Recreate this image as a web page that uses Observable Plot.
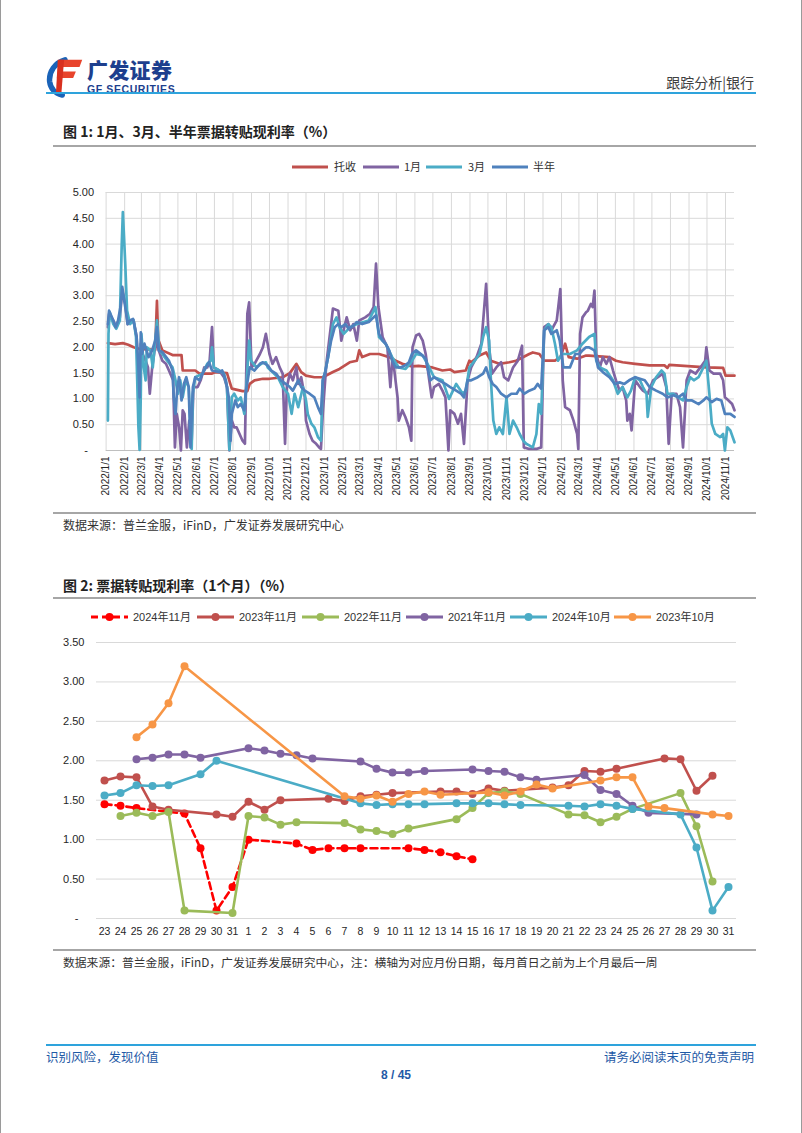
<!DOCTYPE html>
<html><head><meta charset="utf-8">
<script src="https://cdn.jsdelivr.net/npm/d3@7"></script>
<script src="https://cdn.jsdelivr.net/npm/@observablehq/plot@0.6"></script>
<style>
html,body{margin:0;padding:0;background:#fff;}
#page{position:relative;width:802px;height:1133px;box-sizing:border-box;border-left:1px solid #9a9a9a;border-right:1px solid #9a9a9a;overflow:hidden;font-family:"Noto Sans CJK SC","Noto Sans",sans-serif;color:#222;background:#fff;}
.t{position:absolute;white-space:nowrap;line-height:1;}
.rule{position:absolute;}
#chart1{position:absolute;left:50px;top:175px;}
#chart2{position:absolute;left:55px;top:630px;}
</style></head>
<body><div id="page">
<svg style="position:absolute;left:45px;top:56px" width="38" height="42" viewBox="0 0 42 44">
  <path d="M21 3 C 10 6, 3 16, 4 27 C 5 35, 10 40, 18 42" stroke="#1a63b8" stroke-width="6" fill="none" stroke-linecap="round"/>
  <polygon points="15,3 40,3 37,11 13,11" fill="#e8442c"/>
  <polygon points="13,16 33,16 30,23 12,23" fill="#e8442c"/>
  <polygon points="13,3 20,3 17,40 11,40" fill="#d8301f"/>
</svg>
<div class="t" style="left:86px;top:59px;font-size:21px;font-weight:900;color:#1d3f8e;letter-spacing:0.3px">广发证券</div>
<div class="t" style="left:86px;top:84px;font-family:'Liberation Sans',Arial,sans-serif;font-weight:bold;font-size:10.5px;color:#1d3f8e;letter-spacing:0.6px">GF SECURITIES</div>
<div class="t" style="right:47px;top:75px;font-size:14px;color:#404040">跟踪分析|银行</div>
<div class="rule" style="left:45px;top:92px;width:710px;height:2px;background:#2ea3dc"></div>

<div class="t" style="left:62px;top:124px;font-size:14px;font-weight:bold;color:#222">图 1: 1月、3月、半年票据转贴现利率（%）</div>
<div class="rule" style="left:52px;top:145px;width:703px;height:2px;background:#a6a6a6"></div>

<svg style="position:absolute;left:0;top:157px" width="802" height="20" font-family="Noto Sans CJK SC, sans-serif" font-size="11" fill="#333">
  <line x1="291" x2="327" y1="10" y2="10" stroke="#c0504d" stroke-width="3"/><text x="333" y="10" dy="0.36em">托收</text>
  <line x1="362" x2="398" y1="10" y2="10" stroke="#8064a2" stroke-width="3"/><text x="403" y="10" dy="0.36em">1月</text>
  <line x1="425" x2="461" y1="10" y2="10" stroke="#4bacc6" stroke-width="3"/><text x="467" y="10" dy="0.36em">3月</text>
  <line x1="491" x2="527" y1="10" y2="10" stroke="#4f81bd" stroke-width="3"/><text x="532" y="10" dy="0.36em">半年</text>
</svg>
<div id="chart1"></div>
<div class="rule" style="left:52px;top:512px;width:703px;height:2px;background:#a6a6a6"></div>
<div class="t" style="left:62px;top:519px;font-size:12px;color:#333">数据来源：普兰金服，iFinD，广发证券发展研究中心</div>

<div class="t" style="left:62px;top:578px;font-size:14px;font-weight:bold;color:#222">图 2: 票据转贴现利率（1个月）（%）</div>
<div class="rule" style="left:52px;top:597px;width:703px;height:2px;background:#a6a6a6"></div>
<svg id="legend2" style="position:absolute;left:0;top:607px" width="802" height="20" font-family="Liberation Sans, Noto Sans CJK SC, sans-serif" font-size="11" fill="#333"></svg>
<div id="chart2"></div>
<div class="rule" style="left:52px;top:949px;width:703px;height:2px;background:#a6a6a6"></div>
<div class="t" style="left:62px;top:956px;font-size:11.8px;color:#333">数据来源：普兰金服，iFinD，广发证券发展研究中心，注：横轴为对应月份日期，每月首日之前为上个月最后一周</div>

<div class="rule" style="left:45px;top:1044px;width:710px;height:2px;background:#2ea3dc"></div>
<div class="t" style="left:45px;top:1051px;font-size:12.5px;color:#1f5aa6">识别风险，发现价值</div>
<div class="t" style="right:47px;top:1051px;font-size:12.5px;color:#1f5aa6">请务必阅读末页的免责声明</div>
<div class="t" style="left:380px;top:1069px;font-family:'Liberation Sans',Arial,sans-serif;font-weight:bold;font-size:12px;color:#1f5aa6">8 / 45</div>
</div>
<script>
// ---------- Chart 1 data (date, %) ----------
const tuoshou = [["2022-01-04",2.08],["2022-01-16",2.06],["2022-01-29",2.08],["2022-02-07",2.05],["2022-02-16",2.0],["2022-02-25",1.97],["2022-03-13",1.96],["2022-03-24",1.95],["2022-03-27",2.9],["2022-03-29",2.15],["2022-04-05",1.94],["2022-04-22",1.85],["2022-05-07",1.85],["2022-05-09",1.55],["2022-05-30",1.55],["2022-06-06",1.49],["2022-06-27",1.49],["2022-07-03",1.52],["2022-07-22",1.5],["2022-07-30",1.2],["2022-08-17",1.15],["2022-08-25",1.15],["2022-08-29",1.29],["2022-09-06",1.36],["2022-09-20",1.39],["2022-10-01",1.39],["2022-10-23",1.42],["2022-11-04",1.5],["2022-11-15",1.68],["2022-11-23",1.52],["2022-12-01",1.45],["2022-12-15",1.42],["2022-12-29",1.42],["2023-01-15",1.52],["2023-01-26",1.58],["2023-02-12",1.71],["2023-02-24",1.74],["2023-02-28",1.94],["2023-03-05",1.81],["2023-03-18",1.87],["2023-04-02",1.87],["2023-04-19",1.81],["2023-04-30",1.74],["2023-05-11",1.68],["2023-05-27",1.63],["2023-06-07",1.64],["2023-06-30",1.61],["2023-07-17",1.55],["2023-07-30",1.57],["2023-08-06",1.52],["2023-08-25",1.55],["2023-08-31",1.74],["2023-09-03",1.71],["2023-09-17",1.84],["2023-09-28",1.9],["2023-10-06",1.74],["2023-10-20",1.68],["2023-11-06",1.71],["2023-11-17",1.74],["2023-12-09",1.87],["2023-12-15",1.9],["2023-12-26",1.87],["2024-01-03",1.74],["2024-01-21",1.74],["2024-01-30",1.81],["2024-02-07",2.07],["2024-02-13",1.81],["2024-02-27",1.78],["2024-03-13",1.84],["2024-03-18",1.84],["2024-04-21",1.81],["2024-05-02",1.74],["2024-05-13",1.71],["2024-06-03",1.68],["2024-06-27",1.65],["2024-07-22",1.65],["2024-07-27",1.6],["2024-07-30",1.66],["2024-09-30",1.61],["2024-10-28",1.6],["2024-11-01",1.45],["2024-11-16",1.45]];

const yue1 = [["2022-01-04",2.39],["2022-01-06",2.65],["2022-01-13",2.52],["2022-01-18",2.39],["2022-01-24",2.58],["2022-01-28",3.1],["2022-02-02",2.84],["2022-02-06",2.45],["2022-02-10",2.52],["2022-02-16",2.52],["2022-02-21",2.2],["2022-02-24",1.36],["2022-02-26",0.71],["2022-02-28",2.07],["2022-03-03",1.87],["2022-03-08",1.74],["2022-03-12",1.61],["2022-03-15",1.1],["2022-03-19",1.61],["2022-03-23",1.94],["2022-03-27",2.13],["2022-03-30",1.94],["2022-04-05",1.74],["2022-04-11",1.68],["2022-04-16",1.55],["2022-04-23",1.36],["2022-04-26",0.06],["2022-04-29",0.71],["2022-05-03",0.45],["2022-05-06",0.0],["2022-05-09",0.78],["2022-05-12",0.71],["2022-05-16",0.06],["2022-05-20",0.58],["2022-05-24",0.19],["2022-05-27",1.23],["2022-06-03",1.23],["2022-06-08",1.36],["2022-06-14",1.61],["2022-06-19",1.61],["2022-06-23",1.74],["2022-06-27",2.39],["2022-06-30",1.61],["2022-07-09",1.55],["2022-07-17",1.42],["2022-07-22",1.23],["2022-07-26",0.0],["2022-07-30",0.58],["2022-08-03",0.45],["2022-08-07",0.45],["2022-08-12",0.32],["2022-08-17",0.19],["2022-08-21",0.13],["2022-08-25",2.65],["2022-08-28",2.87],["2022-09-01",1.61],["2022-09-06",1.68],["2022-09-15",1.87],["2022-09-20",2.0],["2022-09-25",2.26],["2022-10-01",1.87],["2022-10-06",1.68],["2022-10-12",1.81],["2022-10-18",1.61],["2022-10-23",1.49],["2022-10-27",0.13],["2022-10-30",1.23],["2022-11-04",1.49],["2022-11-09",1.36],["2022-11-15",1.61],["2022-11-18",1.29],["2022-11-23",1.42],["2022-11-29",1.03],["2022-12-01",0.58],["2022-12-07",0.32],["2022-12-12",0.19],["2022-12-18",0.13],["2022-12-23",0.06],["2022-12-26",0.03],["2022-12-29",0.71],["2023-01-04",1.68],["2023-01-12",2.45],["2023-01-15",2.75],["2023-01-24",2.71],["2023-01-29",2.13],["2023-02-03",2.39],["2023-02-07",2.58],["2023-02-13",2.33],["2023-02-18",2.45],["2023-02-24",2.13],["2023-02-28",2.52],["2023-03-10",2.58],["2023-03-18",2.65],["2023-03-24",2.78],["2023-03-28",3.62],["2023-04-01",2.78],["2023-04-08",2.2],["2023-04-16",2.0],["2023-04-21",1.23],["2023-04-24",1.74],["2023-04-27",1.61],["2023-05-03",1.03],["2023-05-05",0.58],["2023-05-11",0.78],["2023-05-16",0.65],["2023-05-22",0.45],["2023-05-26",0.19],["2023-05-28",2.0],["2023-06-03",2.23],["2023-06-08",2.26],["2023-06-14",2.13],["2023-06-19",1.87],["2023-06-25",1.36],["2023-06-29",1.03],["2023-07-03",1.23],["2023-07-11",1.29],["2023-07-17",1.16],["2023-07-22",1.03],["2023-07-27",0.0],["2023-07-30",0.78],["2023-08-06",0.71],["2023-08-12",0.52],["2023-08-17",0.71],["2023-08-22",0.13],["2023-08-28",1.36],["2023-09-03",1.61],["2023-09-12",1.81],["2023-09-20",2.07],["2023-09-28",3.23],["2023-10-03",2.0],["2023-10-08",1.49],["2023-10-15",1.61],["2023-10-23",1.71],["2023-10-28",1.42],["2023-11-04",1.36],["2023-11-12",1.61],["2023-11-20",1.74],["2023-11-27",2.03],["2023-11-30",0.06],["2023-12-09",0.03],["2023-12-21",0.03],["2023-12-29",0.06],["2024-01-03",2.39],["2024-01-10",2.45],["2024-01-15",2.33],["2024-01-24",2.52],["2024-01-30",3.13],["2024-02-03",1.36],["2024-02-07",0.84],["2024-02-15",0.78],["2024-02-21",0.58],["2024-02-27",0.32],["2024-02-29",0.03],["2024-03-03",2.26],["2024-03-07",2.58],["2024-03-13",2.68],["2024-03-16",2.71],["2024-03-21",2.84],["2024-03-24",2.78],["2024-03-27",3.1],["2024-03-30",1.87],["2024-04-05",1.61],["2024-04-10",1.81],["2024-04-16",1.68],["2024-04-21",1.81],["2024-04-27",1.55],["2024-05-02",1.36],["2024-05-08",1.16],["2024-05-13",1.23],["2024-05-19",0.97],["2024-05-21",0.58],["2024-05-25",0.71],["2024-05-28",0.39],["2024-06-03",1.36],["2024-06-11",1.23],["2024-06-16",1.16],["2024-06-24",1.1],["2024-07-03",1.36],["2024-07-11",1.42],["2024-07-19",1.49],["2024-07-25",1.23],["2024-07-29",0.13],["2024-08-03",1.1],["2024-08-11",1.1],["2024-08-17",0.84],["2024-08-22",0.06],["2024-08-28",1.36],["2024-09-03",1.55],["2024-09-12",1.49],["2024-09-20",1.61],["2024-09-28",1.74],["2024-09-30",2.0],["2024-10-05",1.55],["2024-10-12",1.49],["2024-10-23",1.49],["2024-10-28",1.36],["2024-10-31",1.03],["2024-11-06",0.97],["2024-11-12",0.9],["2024-11-16",0.78]];

const yue3 = [["2022-01-04",0.58],["2022-01-05",2.26],["2022-01-07",2.68],["2022-01-13",2.45],["2022-01-18",2.36],["2022-01-24",2.52],["2022-01-27",3.94],["2022-01-29",4.62],["2022-02-02",3.62],["2022-02-05",2.71],["2022-02-10",2.45],["2022-02-16",2.52],["2022-02-20",2.2],["2022-02-22",1.36],["2022-02-24",0.45],["2022-02-26",0.01],["2022-02-28",1.1],["2022-03-01",2.26],["2022-03-05",1.61],["2022-03-08",1.36],["2022-03-10",2.0],["2022-03-16",1.94],["2022-03-20",1.61],["2022-03-24",2.13],["2022-03-27",2.52],["2022-03-31",1.94],["2022-04-05",1.87],["2022-04-13",1.74],["2022-04-22",1.61],["2022-04-27",1.36],["2022-05-01",1.1],["2022-05-05",1.36],["2022-05-09",1.03],["2022-05-14",1.36],["2022-05-19",1.23],["2022-05-24",0.03],["2022-05-26",1.1],["2022-05-30",1.42],["2022-06-11",1.49],["2022-06-19",1.68],["2022-06-25",1.74],["2022-06-27",2.0],["2022-06-30",1.61],["2022-07-09",1.55],["2022-07-17",1.49],["2022-07-22",1.23],["2022-07-26",0.01],["2022-07-30",1.03],["2022-08-03",1.1],["2022-08-09",0.97],["2022-08-14",1.03],["2022-08-20",0.71],["2022-08-24",1.36],["2022-08-28",2.13],["2022-08-31",1.74],["2022-09-09",1.61],["2022-09-17",1.68],["2022-09-25",1.71],["2022-09-28",1.61],["2022-10-06",1.52],["2022-10-15",1.42],["2022-10-23",1.23],["2022-11-01",1.1],["2022-11-07",0.71],["2022-11-12",1.1],["2022-11-18",0.84],["2022-11-26",1.23],["2022-12-01",0.97],["2022-12-04",0.71],["2022-12-10",0.52],["2022-12-15",0.45],["2022-12-21",0.26],["2022-12-26",0.19],["2022-12-29",1.36],["2023-01-02",1.52],["2023-01-07",1.81],["2023-01-15",2.45],["2023-01-21",2.58],["2023-01-26",2.39],["2023-02-02",2.26],["2023-02-13",2.39],["2023-02-24",2.45],["2023-03-16",2.52],["2023-03-27",2.78],["2023-04-02",2.2],["2023-04-13",2.07],["2023-04-24",1.81],["2023-05-05",1.61],["2023-05-16",1.58],["2023-05-24",1.68],["2023-06-03",1.87],["2023-06-14",1.84],["2023-06-22",1.68],["2023-07-03",1.42],["2023-07-17",1.36],["2023-07-28",1.0],["2023-08-09",1.29],["2023-08-20",1.1],["2023-08-25",1.16],["2023-08-31",1.61],["2023-09-09",1.74],["2023-09-17",1.87],["2023-09-23",2.2],["2023-09-28",2.39],["2023-10-03",2.13],["2023-10-06",1.36],["2023-10-10",0.58],["2023-10-15",0.32],["2023-10-20",0.45],["2023-10-26",0.32],["2023-11-01",1.03],["2023-11-06",0.32],["2023-11-12",0.58],["2023-11-18",0.45],["2023-11-23",0.32],["2023-11-29",0.19],["2023-12-04",0.13],["2023-12-09",0.1],["2023-12-15",0.06],["2023-12-21",0.32],["2023-12-25",0.9],["2023-12-29",0.71],["2024-01-03",2.33],["2024-01-10",2.45],["2024-01-15",2.39],["2024-01-21",2.07],["2024-01-26",1.74],["2024-02-02",1.87],["2024-02-15",1.87],["2024-02-27",1.94],["2024-03-07",2.07],["2024-03-18",2.2],["2024-03-27",2.26],["2024-03-30",1.74],["2024-04-05",1.61],["2024-04-16",1.55],["2024-04-27",1.36],["2024-05-05",1.1],["2024-05-13",1.23],["2024-05-21",1.03],["2024-05-27",1.16],["2024-06-03",1.42],["2024-06-11",1.36],["2024-06-16",1.23],["2024-06-22",1.1],["2024-06-24",0.65],["2024-06-30",1.23],["2024-07-08",1.42],["2024-07-17",1.55],["2024-07-22",1.49],["2024-07-27",1.1],["2024-08-06",1.1],["2024-08-14",1.03],["2024-08-22",0.97],["2024-08-28",1.23],["2024-09-03",1.42],["2024-09-09",1.36],["2024-09-17",1.42],["2024-09-25",1.61],["2024-09-30",1.74],["2024-10-05",1.1],["2024-10-09",0.52],["2024-10-15",0.32],["2024-10-23",0.26],["2024-10-28",0.32],["2024-10-31",0.0],["2024-11-04",0.45],["2024-11-09",0.39],["2024-11-16",0.16]];

const bannian = [["2022-01-04",2.45],["2022-01-06",2.71],["2022-01-13",2.52],["2022-01-17",2.39],["2022-01-21",2.52],["2022-01-25",2.78],["2022-01-28",3.17],["2022-02-02",2.78],["2022-02-06",2.45],["2022-02-10",2.52],["2022-02-15",2.55],["2022-02-18",2.39],["2022-02-21",2.2],["2022-02-24",1.61],["2022-02-26",1.03],["2022-02-28",2.29],["2022-03-02",1.87],["2022-03-06",2.07],["2022-03-13",1.81],["2022-03-19",1.94],["2022-03-24",2.13],["2022-03-27",2.39],["2022-03-30",1.94],["2022-04-05",1.91],["2022-04-16",1.74],["2022-04-22",1.55],["2022-04-24",1.03],["2022-04-27",0.71],["2022-04-30",1.23],["2022-05-03",1.42],["2022-05-07",0.97],["2022-05-11",1.29],["2022-05-15",1.42],["2022-05-19",1.23],["2022-05-22",0.06],["2022-05-26",1.23],["2022-05-30",1.42],["2022-06-06",1.36],["2022-06-11",1.49],["2022-06-17",1.61],["2022-06-22",1.71],["2022-06-27",1.55],["2022-07-09",1.52],["2022-07-14",1.55],["2022-07-20",1.36],["2022-07-25",1.03],["2022-07-28",0.19],["2022-07-30",0.71],["2022-08-05",0.97],["2022-08-09",0.84],["2022-08-14",0.9],["2022-08-20",0.78],["2022-08-22",1.1],["2022-08-29",1.61],["2022-09-06",1.55],["2022-09-15",1.68],["2022-09-20",1.71],["2022-09-28",1.65],["2022-10-04",1.55],["2022-10-12",1.49],["2022-10-20",1.36],["2022-10-28",1.29],["2022-11-04",1.23],["2022-11-09",1.16],["2022-11-18",1.36],["2022-11-23",1.23],["2022-11-29",1.16],["2022-12-07",1.1],["2022-12-15",1.03],["2022-12-21",0.84],["2022-12-26",0.71],["2022-12-29",1.36],["2023-01-02",1.52],["2023-01-07",1.81],["2023-01-12",2.13],["2023-01-18",2.39],["2023-01-24",2.45],["2023-01-29",2.39],["2023-02-05",2.45],["2023-02-10",2.36],["2023-02-18",2.42],["2023-02-24",2.49],["2023-03-05",2.45],["2023-03-16",2.49],["2023-03-24",2.58],["2023-03-28",2.62],["2023-04-02",2.26],["2023-04-08",2.13],["2023-04-13",2.07],["2023-04-19",1.94],["2023-04-24",1.74],["2023-04-30",1.61],["2023-05-08",1.61],["2023-05-16",1.65],["2023-05-22",1.71],["2023-05-27",1.87],["2023-06-03",1.94],["2023-06-11",1.87],["2023-06-19",1.78],["2023-06-22",1.61],["2023-06-27",1.36],["2023-07-03",1.42],["2023-07-11",1.36],["2023-07-22",1.29],["2023-07-30",1.23],["2023-08-09",1.16],["2023-08-17",1.1],["2023-08-22",1.03],["2023-08-28",1.36],["2023-09-03",1.36],["2023-09-14",1.42],["2023-09-23",1.49],["2023-09-28",1.61],["2023-10-03",1.42],["2023-10-09",1.29],["2023-10-15",1.23],["2023-10-23",1.1],["2023-11-01",1.03],["2023-11-09",1.1],["2023-11-18",1.1],["2023-11-23",1.2],["2023-12-01",1.1],["2023-12-09",1.16],["2023-12-18",1.2],["2023-12-23",1.29],["2023-12-29",1.2],["2024-01-03",2.33],["2024-01-10",2.39],["2024-01-15",2.26],["2024-01-24",2.33],["2024-01-29",2.13],["2024-02-04",1.61],["2024-02-15",1.61],["2024-02-24",1.87],["2024-03-02",1.87],["2024-03-07",1.94],["2024-03-13",2.0],["2024-03-18",2.0],["2024-03-27",1.94],["2024-04-02",1.61],["2024-04-10",1.52],["2024-04-21",1.42],["2024-04-30",1.29],["2024-05-08",1.32],["2024-05-16",1.29],["2024-05-24",1.36],["2024-06-03",1.42],["2024-06-11",1.39],["2024-06-19",1.36],["2024-06-27",1.23],["2024-07-08",1.16],["2024-07-19",1.1],["2024-07-27",1.03],["2024-08-06",1.07],["2024-08-14",1.03],["2024-08-22",1.1],["2024-08-28",0.97],["2024-09-06",0.97],["2024-09-17",0.9],["2024-09-25",0.97],["2024-09-30",1.03],["2024-10-09",0.94],["2024-10-17",1.0],["2024-10-25",0.97],["2024-10-31",0.71],["2024-11-09",0.71],["2024-11-16",0.65]];

const yTicks1 = [0, 0.5, 1, 1.5, 2, 2.5, 3, 3.5, 4, 4.5, 5];

// ---------- Chart 2 data ----------
const dayLabels = ["23","24","25","26","27","28","29","30","31",
  "1","2","3","4","5","6","7","8","9","10","11","12","13","14","15","16","17","18","19","20",
  "21","22","23","24","25","26","27","28","29","30","31"];
const nov2024 = [1.45,1.43,1.40,null,null,1.33,0.89,0.10,0.40,
  1.00,null,null,0.95,0.87,0.89,0.89,0.89,null,null,
  0.89,0.87,0.84,0.79,0.75,null,null,null,null,null,
  null,null,null,null,null,null,null,null,null,null,null];
const nov2023 = [1.75,1.80,1.79,1.42,1.38,null,null,1.32,1.29,
  1.48,1.38,1.50,null,null,1.52,1.49,1.55,1.57,1.59,
  null,null,1.61,1.61,1.58,1.65,1.62,null,null,1.66,
  1.69,1.87,1.86,1.90,null,null,2.03,2.02,1.62,1.81,null];
const nov2022 = [null,1.30,1.34,1.30,1.35,0.10,null,null,0.07,
  1.30,1.28,1.19,1.22,null,null,1.21,1.13,1.11,1.07,
  1.14,null,null,1.26,1.40,1.59,1.61,1.58,null,null,
  1.32,1.31,1.22,1.29,1.39,null,null,1.59,1.17,0.47,null];
const nov2021 = [null,null,2.02,2.04,2.08,2.08,2.04,null,null,
  2.16,2.13,2.09,2.07,2.03,null,null,1.99,1.90,1.85,
  1.85,1.87,null,null,1.89,1.87,1.86,1.79,1.76,null,
  null,1.82,1.63,1.58,1.43,1.34,null,null,1.32,null,null];
const oct2024 = [1.56,1.59,1.69,1.68,1.69,null,1.83,2.00,null,
  null,null,null,null,null,null,null,1.46,1.44,1.45,
  1.45,1.45,null,1.46,1.46,1.46,1.45,1.44,null,null,
  1.43,1.42,1.45,1.43,1.39,null,null,1.32,0.90,0.10,0.40];
const oct2023 = [null,null,2.30,2.46,2.73,3.20,null,null,null,
  null,null,null,null,null,null,1.55,1.52,1.56,1.48,
  1.58,1.61,1.57,null,null,1.60,1.56,1.61,1.70,1.65,
  null,null,1.75,1.79,1.79,1.42,1.40,null,null,1.32,1.30];
const yTicks2 = [0, 0.5, 1, 1.5, 2, 2.5, 3, 3.5];

// ---------- build ----------
const parse = d3.utcParse("%Y-%m-%d");
const fmtY = d => d === 0 ? "-\u00a0\u00a0" : d.toFixed(2);
const series1 = [
  {name: "托收", color: "#c0504d", data: tuoshou},
  {name: "1月", color: "#8064a2", data: yue1},
  {name: "3月", color: "#4bacc6", data: yue3},
  {name: "半年", color: "#4f81bd", data: bannian}
];
const monthTicks = d3.utcMonth.range(parse("2022-01-01"), parse("2024-11-02"));
const fontStack = '"Liberation Sans", Arial, sans-serif';

const c1 = Plot.plot({
  width: 710, height: 337,
  marginLeft: 54.6, marginRight: 27, marginTop: 17, marginBottom: 62,
  style: {fontFamily: fontStack, fontSize: "10px", color: "#262626", background: "none", overflow: "visible"},
  x: {type: "utc", domain: [parse("2022-01-01"), parse("2024-11-16")], label: null},
  y: {domain: [0, 5], label: null},
  marks: [
    Plot.ruleY(yTicks1.filter(d => d > 0), {stroke: "#d9d9d9", strokeWidth: 1}),
    Plot.ruleX(monthTicks, {stroke: "#d9d9d9", strokeWidth: 1}),
    Plot.ruleY([0], {stroke: "#bfbfbf", strokeWidth: 1}),
    Plot.axisY(yTicks1, {label: null, tickSize: 0, tickPadding: 12, tickFormat: fmtY, fontSize: 11}),
    Plot.axisX(monthTicks, {label: null, tickSize: 0, tickPadding: 6, tickRotate: -90, tickFormat: d3.utcFormat("%Y/%-m/%-d"), fontSize: 10}),
    ...series1.map(s => Plot.line(s.data.map(([d, v]) => ({date: parse(d), value: v})),
      {x: "date", y: "value", stroke: s.color, strokeWidth: 2.7}))
  ]
});
document.getElementById("chart1").append(c1);

const series2 = [
  {name: "2024年11月", color: "#ff0000", dash: "7,4", values: nov2024},
  {name: "2023年11月", color: "#c0504d", dash: null, values: nov2023},
  {name: "2022年11月", color: "#9bbb59", dash: null, values: nov2022},
  {name: "2021年11月", color: "#8064a2", dash: null, values: nov2021},
  {name: "2024年10月", color: "#4bacc6", dash: null, values: oct2024},
  {name: "2023年10月", color: "#f79646", dash: null, values: oct2023}
];
const idx = d3.range(dayLabels.length);
const c2 = Plot.plot({
  width: 705, height: 315,
  marginLeft: 40, marginRight: 25, marginTop: 12, marginBottom: 27,
  style: {fontFamily: fontStack, fontSize: "10.5px", color: "#262626", background: "none", overflow: "visible"},
  x: {type: "point", domain: idx, padding: 0.5, label: null},
  y: {domain: [0, 3.5], label: null},
  marks: [
    Plot.ruleY(yTicks2, {stroke: "#d9d9d9", strokeWidth: 1}),
    Plot.axisY(yTicks2, {label: null, tickSize: 0, tickPadding: 12, tickFormat: fmtY, fontSize: 11}),
    Plot.axisX(idx, {label: null, tickSize: 0, tickPadding: 9, tickFormat: i => dayLabels[i], fontSize: 10.5}),
    ...series2.flatMap(s => {
      const pts = s.values.map((v, i) => ({i, v})).filter(d => d.v != null);
      return [
        Plot.line(pts, {x: "i", y: "v", stroke: s.color, strokeWidth: 2.6, strokeDasharray: s.dash || undefined}),
        Plot.dot(pts, {x: "i", y: "v", r: 4, fill: s.color, stroke: "none"})
      ];
    })
  ]
});
document.getElementById("chart2").append(c2);

// legend 2
const lg = d3.select("#legend2");
const lx = [90, 196, 301, 405, 509, 613];
series2.forEach((s, k) => {
  const x0 = lx[k];
  lg.append("line").attr("x1", x0).attr("x2", x0 + 37).attr("y1", 10).attr("y2", 10)
    .attr("stroke", s.color).attr("stroke-width", 3).attr("stroke-dasharray", s.dash);
  lg.append("circle").attr("cx", x0 + 18.5).attr("cy", 10).attr("r", 4).attr("fill", s.color);
  lg.append("text").attr("x", x0 + 42).attr("y", 10).attr("dy", "0.36em").text(s.name);
});
</script>
</body></html>
